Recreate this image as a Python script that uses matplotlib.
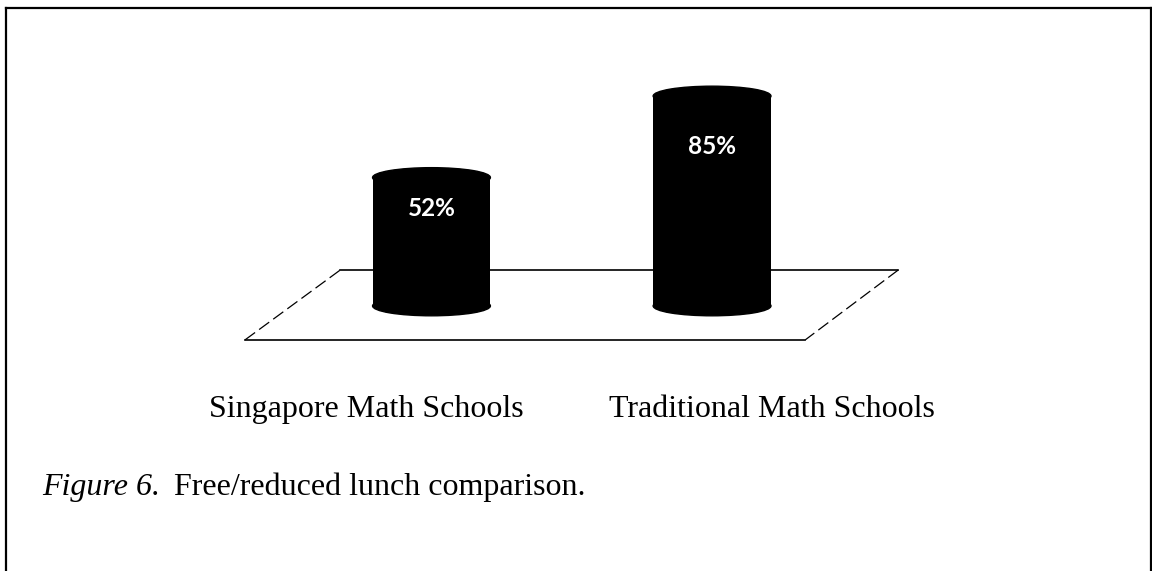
import matplotlib
matplotlib.use("Agg")
import matplotlib.pyplot as plt
from matplotlib.patches import Ellipse
from matplotlib.lines import Line2D

# ----------------------------------------------------------------------
# Data
# ----------------------------------------------------------------------
categories = ["Singapore Math Schools", "Traditional Math Schools"]
values = [52, 85]
value_labels = ["52%", "85%"]
caption_lead = "Figure 6."
caption_text = "Free/reduced lunch comparison."

W, H = 1152, 571
fig = plt.figure(figsize=(W / 100, H / 100), dpi=100)
fig.patch.set_facecolor("white")


def px(x, y):
    """pixel (from top-left) -> figure fraction"""
    return x / W, 1 - y / H


# chart area, in pixels
ax_l, ax_r, ax_t, ax_b = 200, 950, 60, 360
ax = fig.add_axes([ax_l / W, 1 - ax_b / H, (ax_r - ax_l) / W, (ax_b - ax_t) / H])
ax.set_xlim(-0.825, 1.848)
ax.set_ylim(-21.9, 99.6)
ax.axis("off")

bar_w = 0.42
ell_h = 8.0

# floor of the 3D plot (axes fraction)
floor = [(0.187, 0.30), (0.931, 0.30), (0.807, 0.067), (0.06, 0.067)]
fx = [p[0] for p in floor] + [floor[0][0]]
fy = [p[1] for p in floor] + [floor[0][1]]
ax.plot(fx[:2], fy[:2], color="black", lw=1.2, transform=ax.transAxes, zorder=1)
ax.plot(fx[2:4], fy[2:4], color="black", lw=1.2, transform=ax.transAxes, zorder=1)
ax.plot(fx[1:3], fy[1:3], color="black", lw=0.9, ls=(0, (10, 4)), transform=ax.transAxes, zorder=1)
ax.plot(fx[3:5], fy[3:5], color="black", lw=0.9, ls=(0, (10, 4)), transform=ax.transAxes, zorder=1)

# cylinders
xs = list(range(len(values)))
ax.bar(xs, values, width=bar_w, color="black", zorder=3)
for x, v, lab in zip(xs, values, value_labels):
    ax.add_patch(Ellipse((x, 0), bar_w, ell_h, color="black", zorder=3))
    ax.add_patch(Ellipse((x, v), bar_w, ell_h, color="black", zorder=3))
    ax.text(x, v * 0.76, lab, color="white", fontsize=17.5, fontweight="bold",
            family="Lato", ha="center", va="center", zorder=4)

# category labels below the plot
label_x = [366, 772]
for cx, cat in zip(label_x, categories):
    fig.text(*px(cx, 417), cat, family="Liberation Serif", fontsize=23,
             ha="center", va="baseline")

# caption
fig.text(*px(42, 495), caption_lead, family="Liberation Serif", style="italic",
         fontsize=23, ha="left", va="baseline")
fig.text(*px(174, 495), caption_text, family="Liberation Serif",
         fontsize=23, ha="left", va="baseline")

# page frame (open at the bottom)
x0, y0 = px(5.5, 7.5)
x1, _ = px(1150.5, 7.5)
frame_kw = dict(color="black", lw=1.6, transform=fig.transFigure)
fig.add_artist(Line2D([x0, x1], [y0, y0], **frame_kw))
fig.add_artist(Line2D([x0, x0], [y0, -0.01], **frame_kw))
fig.add_artist(Line2D([x1, x1], [y0, -0.01], **frame_kw))

fig.savefig("out.png", dpi=100)
